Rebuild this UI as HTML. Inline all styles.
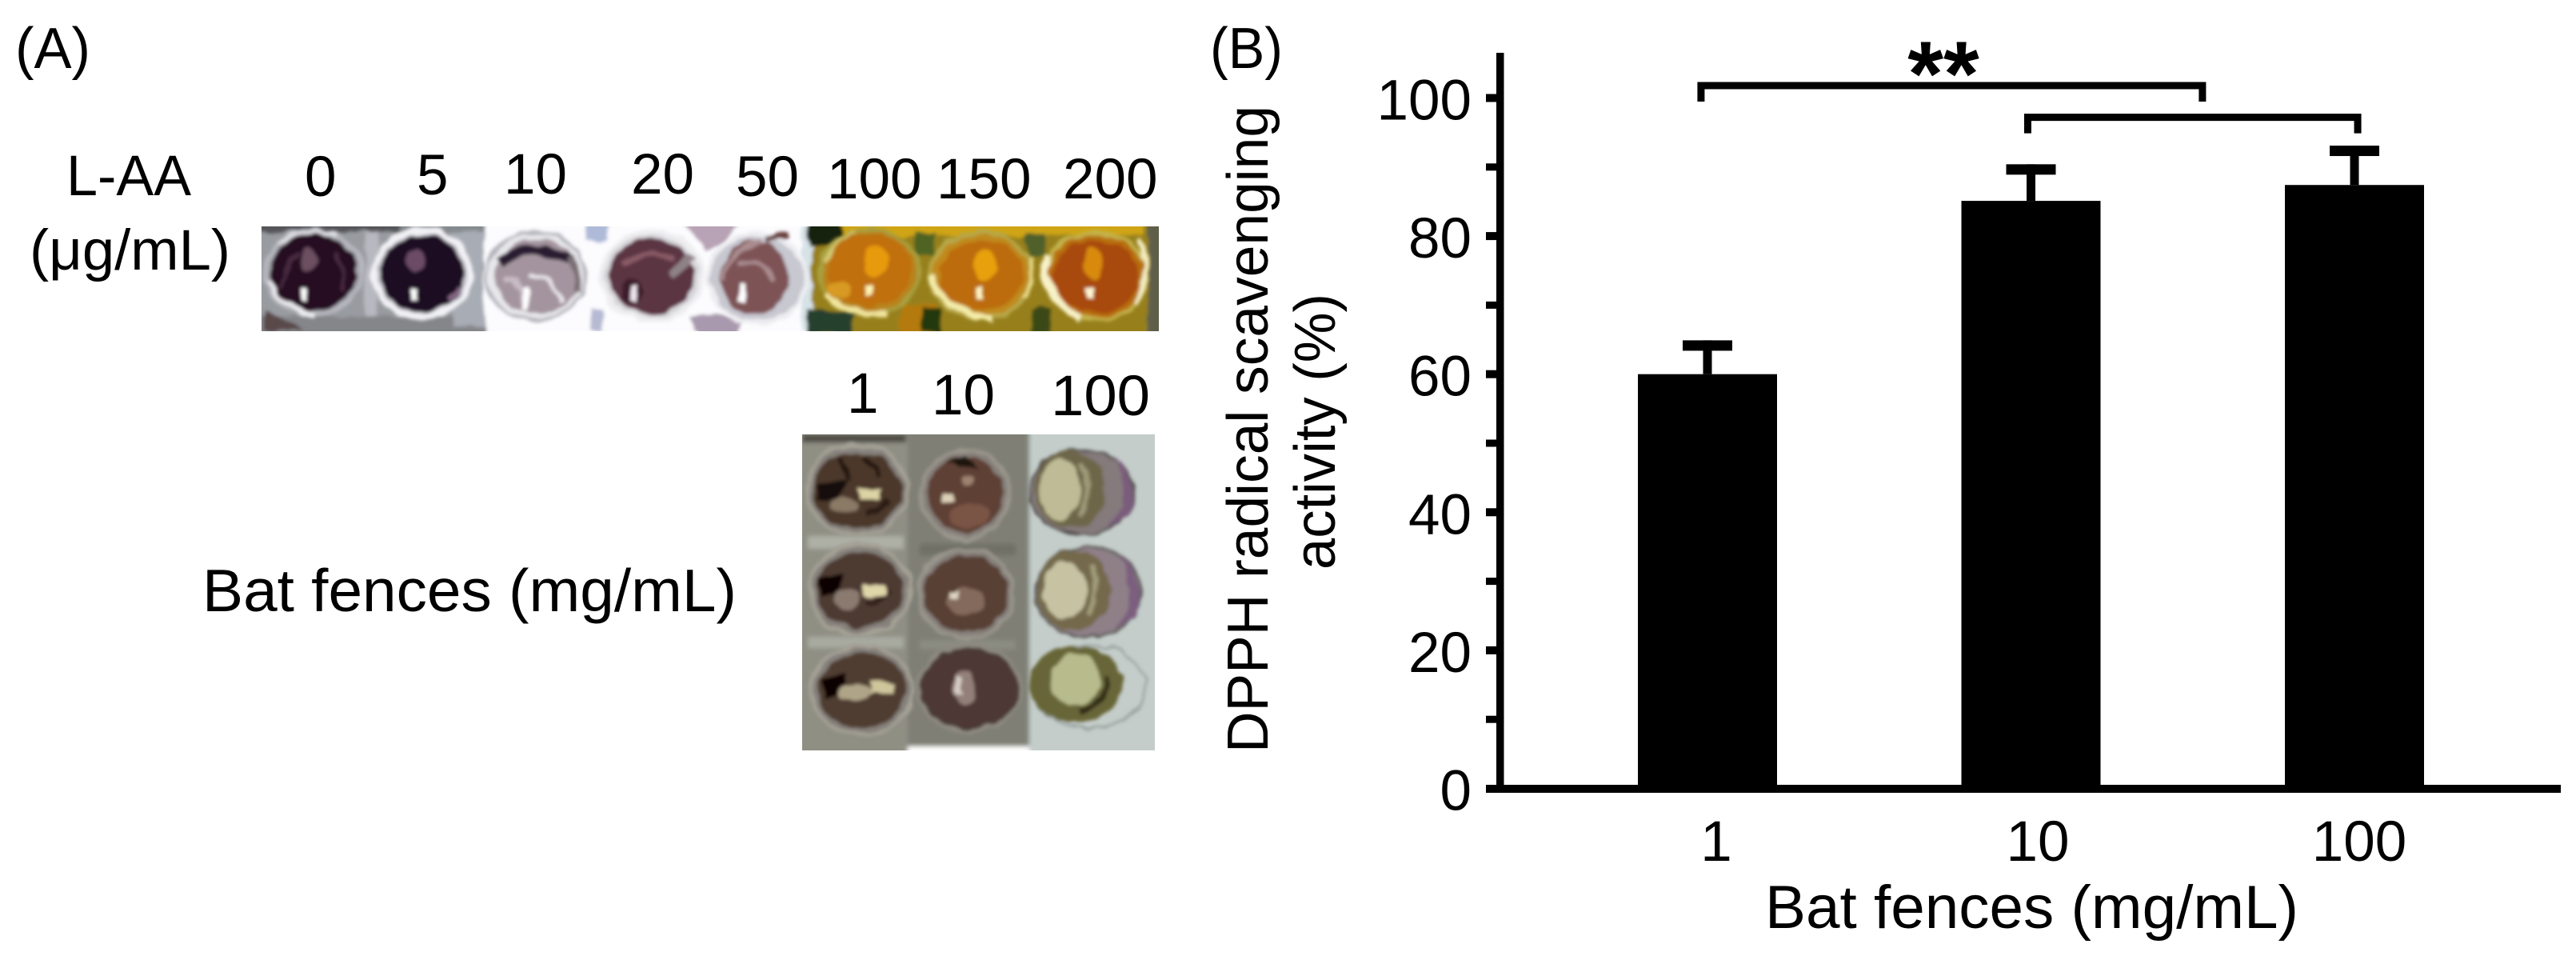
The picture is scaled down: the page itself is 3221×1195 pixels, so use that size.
<!DOCTYPE html>
<html lang="en">
<head>
<meta charset="utf-8">
<title>DPPH radical scavenging activity of bat fences</title>
<style>
html,body{margin:0;padding:0;background:#fff;}
svg{display:block;}
text{font-family:"Liberation Sans",Arial,sans-serif;fill:#000;}
</style>
</head>
<body>
<svg id="figure" xmlns="http://www.w3.org/2000/svg" width="3221" height="1195" viewBox="0 0 3221 1195">
<defs>
<filter id="b3" x="-10%" y="-10%" width="120%" height="120%"><feGaussianBlur stdDeviation="3"/></filter>
<filter id="org" x="-10%" y="-10%" width="120%" height="120%">
 <feTurbulence type="fractalNoise" baseFrequency="0.045" numOctaves="2" seed="4" result="n"/>
 <feDisplacementMap in="SourceGraphic" in2="n" scale="11" xChannelSelector="R" yChannelSelector="G"/>
 <feGaussianBlur stdDeviation="2.1"/>
</filter>
<clipPath id="clipA"><rect x="327" y="283" width="1122" height="131"/></clipPath>
<clipPath id="clipB"><rect x="1003" y="543" width="441" height="395"/></clipPath>
</defs>
<rect width="3221" height="1195" fill="#fff"/>

<!-- Panel A -->
<text x="19" y="85" font-size="72" textLength="94" lengthAdjust="spacingAndGlyphs">(A)</text>
<text x="83" y="244" font-size="71" textLength="156" lengthAdjust="spacingAndGlyphs">L-AA</text>
<text x="37" y="337" font-size="71" textLength="251" lengthAdjust="spacingAndGlyphs">(μg/mL)</text>
<text x="381" y="245" font-size="71">0</text>
<text x="521" y="243" font-size="71">5</text>
<text x="630" y="242" font-size="71">10</text>
<text x="789" y="242" font-size="71">20</text>
<text x="920" y="245" font-size="71">50</text>
<text x="1034" y="248" font-size="71">100</text>
<text x="1171" y="248" font-size="71">150</text>
<text x="1329" y="248" font-size="71">200</text>

<g clip-path="url(#clipA)">
 <g filter="url(#org)">
  <rect x="310" y="270" width="300" height="155" fill="#989ba0"/>
  <rect x="310" y="270" width="200" height="20" fill="#55555a"/>
  <rect x="500" y="270" width="110" height="20" fill="#858a8e"/>
  <rect x="310" y="395" width="300" height="26" fill="#85868a"/>
  <rect x="455" y="290" width="18" height="105" fill="#b8b8c0"/>
  <rect x="565" y="290" width="42" height="120" fill="#a8acb4"/>
  <path d="M330 385 L380 414 L330 414Z" fill="#5a4a4a"/>
  <rect x="606" y="270" width="410" height="155" fill="#fcfcfe"/>
  <rect x="732" y="278" width="28" height="24" fill="#aebad8"/>
  <rect x="738" y="385" width="16" height="28" fill="#b6bad2"/>
  <path d="M855 278 H925 L900 312 L880 312Z" fill="#b8a2b6"/>
  <path d="M860 395 H930 L925 420 H875Z" fill="#a999ae"/>
  <rect x="1002" y="283" width="14" height="130" fill="#d6e2e6"/>
  <rect x="1016" y="270" width="440" height="155" fill="#97801c"/>
  <rect x="1010" y="275" width="42" height="32" fill="#17240e"/>
  <rect x="1010" y="388" width="56" height="30" fill="#26402e"/>
  <rect x="1052" y="275" width="380" height="20" fill="#cfa515"/>
  <rect x="1125" y="380" width="45" height="38" fill="#b47a10"/>
  <rect x="1144" y="292" width="24" height="28" fill="#4f6420"/>
  <rect x="1284" y="292" width="22" height="28" fill="#50602a"/>
  <rect x="1152" y="385" width="24" height="32" fill="#243810"/>
  <rect x="1290" y="385" width="24" height="30" fill="#3a4818"/>
  <rect x="1436" y="275" width="20" height="145" fill="#5e5e4a"/>
 </g>
 <g filter="url(#org)">
  <ellipse cx="392" cy="340" rx="60" ry="53" fill="#a4a4ac" stroke="#b8b8c0" stroke-width="5"/>
  <path d="M338 350 Q350 385 395 394" stroke="#eeeef2" stroke-width="7" fill="none"/>
  <path d="M345 305 Q375 285 420 292" stroke="#dcdce2" stroke-width="5" fill="none"/>
  <ellipse cx="392" cy="340" rx="54" ry="48" fill="#260f22"/>
  <ellipse cx="385" cy="325" rx="10" ry="14" fill="#6c5060"/>
  <path d="M350 362 Q356 330 372 315 M420 318 Q435 340 428 365" stroke="#4a2c42" stroke-width="5" fill="none"/>
  <rect x="377" y="361" width="8" height="14" fill="#fff"/>
 </g>
 <g filter="url(#org)">
  <ellipse cx="528" cy="342" rx="60" ry="54" fill="#c0c0c8" stroke="#f2f2f6" stroke-width="8"/>
  <ellipse cx="528" cy="342" rx="52" ry="48" fill="#1c0a20"/>
  <ellipse cx="520" cy="325" rx="12" ry="15" fill="#6c4c66"/>
  <path d="M560 372 L575 360" stroke="#8a6a88" stroke-width="7" fill="none"/>
  <rect x="515" y="361" width="8" height="15" fill="#fff"/>
 </g>
 <g filter="url(#org)">
  <ellipse cx="670" cy="345" rx="62" ry="55" fill="#e8e8ec" stroke="#b4b4bc" stroke-width="4"/>
  <ellipse cx="672" cy="345" rx="53" ry="47" fill="#a4949f"/>
  <path d="M625 328 Q650 302 712 322" stroke="#2a1a30" stroke-width="13" fill="none"/>
  <path d="M662 342 Q692 345 702 378" stroke="#e8e4ea" stroke-width="6" fill="none"/>
  <path d="M712 318 Q724 340 720 365" stroke="#7a7074" stroke-width="9" fill="none"/>
  <path d="M630 350 Q650 345 655 380" stroke="#c8bcc6" stroke-width="8" fill="none"/>
  <rect x="653" y="360" width="8" height="28" fill="#fff"/>
 </g>
 <g filter="url(#org)">
  <ellipse cx="815" cy="345" rx="62" ry="55" fill="#d8d6da" stroke="#eeeef0" stroke-width="6"/>
  <ellipse cx="815" cy="345" rx="53" ry="47" fill="#5c3442"/>
  <path d="M780 330 Q810 310 845 325" stroke="#8a5c68" stroke-width="6" fill="none"/>
  <path d="M838 342 Q858 330 866 320" stroke="#8f8286" stroke-width="10" fill="none"/>
  <ellipse cx="790" cy="365" rx="14" ry="16" fill="#3c1a2a"/>
  <rect x="789" y="356" width="8" height="22" fill="#f0e6ee"/>
 </g>
 <g filter="url(#org)">
  <ellipse cx="947" cy="348" rx="62" ry="55" fill="#c8c8d0" stroke="#eeeef2" stroke-width="6"/>
  <ellipse cx="943" cy="347" rx="42" ry="46" fill="#7e5356"/>
  <path d="M925 330 Q950 318 968 350 M905 350 Q905 320 950 300" stroke="#ab8d90" stroke-width="6" fill="none"/>
  <path d="M955 300 L985 292" stroke="#694040" stroke-width="8" fill="none"/>
  <rect x="924" y="355" width="8" height="24" fill="#fff"/>
 </g>
 <g filter="url(#org)">
  <ellipse cx="1087" cy="340" rx="62" ry="53" fill="#b8841c" stroke="#a8a040" stroke-width="5"/>
  <path d="M1032 368 Q1060 395 1110 392" stroke="#f0e49c" stroke-width="7" fill="none"/>
  <path d="M1030 330 Q1040 300 1070 290" stroke="#d4c870" stroke-width="4" fill="none"/>
  <ellipse cx="1087" cy="338" rx="53" ry="45" fill="#c0700a"/>
  <ellipse cx="1095" cy="325" rx="16" ry="20" fill="#e89a10"/>
  <ellipse cx="1050" cy="362" rx="14" ry="10" fill="#d89a20"/>
  <rect x="1081" y="357" width="10" height="13" fill="#fff4b0"/>
 </g>
 <g filter="url(#org)">
  <ellipse cx="1227" cy="344" rx="63" ry="54" fill="#c08a1c" stroke="#b8a848" stroke-width="5"/>
  <path d="M1165 345 Q1180 390 1240 400" stroke="#f4eca8" stroke-width="8" fill="none"/>
  <path d="M1288 320 Q1296 345 1282 372" stroke="#e8dc88" stroke-width="6" fill="none"/>
  <ellipse cx="1227" cy="344" rx="53" ry="43" fill="#bc6c0c"/>
  <ellipse cx="1232" cy="332" rx="14" ry="20" fill="#e8a010"/>
  <rect x="1221" y="360" width="9" height="14" fill="#fff6c0"/>
 </g>
 <g filter="url(#org)">
  <ellipse cx="1370" cy="345" rx="63" ry="54" fill="#b87010" stroke="#c4b44c" stroke-width="5"/>
  <path d="M1308 318 Q1300 370 1350 398" stroke="#f8f2c8" stroke-width="9" fill="none"/>
  <path d="M1425 300 Q1442 340 1420 380" stroke="#f2ecc0" stroke-width="7" fill="none"/>
  <ellipse cx="1370" cy="345" rx="54" ry="45" fill="#a84a0a"/>
  <ellipse cx="1366" cy="330" rx="12" ry="20" fill="#d88a10"/>
  <rect x="1358" y="360" width="9" height="15" fill="#fff6d0"/>
 </g>
</g>

<text x="1059" y="516" font-size="71">1</text>
<text x="1165" y="518" font-size="71">10</text>
<text x="1314" y="519" font-size="71" textLength="124" lengthAdjust="spacingAndGlyphs">100</text>
<text x="253" y="764" font-size="75" textLength="668" lengthAdjust="spacingAndGlyphs">Bat fences (mg/mL)</text>

<g clip-path="url(#clipB)">
 <g filter="url(#b3)">
  <rect x="990" y="530" width="145" height="420" fill="#8f8f84"/>
  <rect x="1135" y="535" width="152" height="398" fill="#7f7f74"/>
  <rect x="1287" y="535" width="170" height="420" fill="#c4cdca"/>
  <rect x="1135" y="933" width="152" height="14" fill="#fff"/>
  <rect x="1010" y="670" width="120" height="16" fill="#aeb0a6"/>
  <rect x="1010" y="796" width="120" height="14" fill="#a8aaa0"/>
  <rect x="1150" y="680" width="120" height="14" fill="#6f7066"/>
  <rect x="1150" y="800" width="120" height="12" fill="#8b8c82"/>
  <rect x="1003" y="543" width="130" height="10" fill="#4c4a42"/>
 </g>
 <g filter="url(#org)">
  <ellipse cx="1072" cy="612" rx="63" ry="56" fill="#85807a" stroke="#a5a196" stroke-width="5"/>
  <ellipse cx="1072" cy="612" rx="56" ry="47" fill="#4c382c"/>
  <path d="M1020 605 L1060 600 L1050 625 L1022 625Z" fill="#120a08"/>
  <path d="M1050 572 Q1062 590 1060 600 M1080 570 Q1095 590 1098 598" stroke="#241610" stroke-width="7" fill="none"/>
  <ellipse cx="1055" cy="632" rx="18" ry="10" fill="#8a7a66"/>
  <path d="M1082 640 Q1100 640 1112 625" stroke="#2a1a14" stroke-width="8" fill="none"/>
  <rect x="1073" y="612" width="28" height="12" fill="#ddd4a6"/>
 </g>
 <g filter="url(#org)">
  <ellipse cx="1075" cy="737" rx="63" ry="56" fill="#85807a" stroke="#a5a196" stroke-width="5"/>
  <ellipse cx="1075" cy="737" rx="55" ry="47" fill="#4e3a32"/>
  <path d="M1022 722 L1055 716 L1050 742 L1026 745Z" fill="#0a0606"/>
  <ellipse cx="1060" cy="750" rx="16" ry="14" fill="#8a7a70"/>
  <path d="M1085 755 Q1100 752 1112 738" stroke="#2e1c18" stroke-width="7" fill="none"/>
  <rect x="1080" y="732" width="28" height="13" fill="#e0d6aa"/>
 </g>
 <g filter="url(#org)">
  <ellipse cx="1078" cy="863" rx="63" ry="56" fill="#85807a" stroke="#a5a196" stroke-width="5"/>
  <ellipse cx="1078" cy="863" rx="55" ry="47" fill="#503c32"/>
  <path d="M1028 848 L1058 842 L1056 868 L1030 872Z" fill="#070404"/>
  <ellipse cx="1068" cy="866" rx="20" ry="12" fill="#b0a488"/>
  <rect x="1088" y="853" width="30" height="14" fill="#cfc69c"/>
 </g>
 <g filter="url(#org)">
  <ellipse cx="1207" cy="618" rx="55" ry="55" fill="#86807a" stroke="#9a968c" stroke-width="5"/>
  <ellipse cx="1207" cy="618" rx="47" ry="47" fill="#5e4034"/>
  <path d="M1185 580 L1207 568 L1225 585 Z" fill="#1c1410"/>
  <rect x="1178" y="618" width="14" height="10" fill="#ddd2b8"/>
  <ellipse cx="1212" cy="645" rx="24" ry="14" fill="#7a5444"/>
  <ellipse cx="1210" cy="600" rx="8" ry="7" fill="#9d8270"/>
 </g>
 <g filter="url(#org)">
  <ellipse cx="1207" cy="742" rx="60" ry="56" fill="#86807a" stroke="#9a968c" stroke-width="5"/>
  <ellipse cx="1207" cy="742" rx="53" ry="47" fill="#583f34"/>
  <ellipse cx="1207" cy="752" rx="24" ry="18" fill="#836a5c"/>
  <rect x="1186" y="738" width="12" height="10" fill="#e0d6c4"/>
 </g>
 <g filter="url(#org)">
  <ellipse cx="1212" cy="860" rx="64" ry="54" fill="#4a3c34" stroke="#8f8a80" stroke-width="5"/>
  <ellipse cx="1212" cy="860" rx="58" ry="48" fill="#4e3836"/>
  <ellipse cx="1205" cy="860" rx="14" ry="22" fill="#94807a"/>
  <rect x="1194" y="846" width="8" height="22" fill="#d8cfc8"/>
 </g>
 <g filter="url(#org)">
  <ellipse cx="1353" cy="615" rx="65" ry="53" fill="#857a7c" stroke="#4e4e4a" stroke-width="3"/>
  <path d="M1392 570 Q1420 615 1385 660 L1410 645 Q1425 615 1405 580Z" fill="#7a5c7c"/>
  <ellipse cx="1338" cy="612" rx="44" ry="48" fill="#6e664a"/>
  <ellipse cx="1325" cy="612" rx="26" ry="38" fill="#bebb96"/>
  <path d="M1350 580 Q1368 612 1350 645" stroke="#9e9a78" stroke-width="6" fill="none"/>
 </g>
 <g filter="url(#org)">
  <ellipse cx="1360" cy="740" rx="66" ry="57" fill="#8f8088" stroke="#5a5a54" stroke-width="3"/>
  <path d="M1398 695 Q1428 740 1395 785 L1420 770 Q1432 740 1412 705Z" fill="#7c5e7e"/>
  <ellipse cx="1342" cy="738" rx="46" ry="50" fill="#74694c"/>
  <ellipse cx="1332" cy="738" rx="28" ry="36" fill="#c6c2a2"/>
  <path d="M1362 705 Q1380 738 1360 772" stroke="#a19c7a" stroke-width="6" fill="none"/>
 </g>
 <g filter="url(#org)">
  <ellipse cx="1362" cy="858" rx="72" ry="52" fill="none" stroke="#9aa39e" stroke-width="3"/>
  <ellipse cx="1345" cy="855" rx="58" ry="48" fill="#686638"/>
  <ellipse cx="1345" cy="850" rx="30" ry="34" fill="#b8bc8c"/>
  <path d="M1350 890 Q1385 880 1385 845" stroke="#2e2a18" stroke-width="6" fill="none"/>
 </g>
</g>

<!-- Panel B -->
<text x="1513" y="85" font-size="72" textLength="91" lengthAdjust="spacingAndGlyphs">(B)</text>
<text transform="translate(1585 941) rotate(-90)" font-size="72" textLength="809" lengthAdjust="spacingAndGlyphs">DPPH radical scavenging</text>
<text transform="translate(1669 712) rotate(-90)" font-size="72" textLength="345" lengthAdjust="spacingAndGlyphs">activity (%)</text>
<text x="2207" y="1160" font-size="76" textLength="667" lengthAdjust="spacingAndGlyphs">Bat fences (mg/mL)</text>
<g id="chart"></g>
</svg>

<script>
const categories = ['1', '10', '100'];
const barValues = [60, 85.1, 87.4];
const errorValues = [4.9, 5.3, 5.7];
const majorTicks = [0, 20, 40, 60, 80, 100];
const minorTicks = [10, 30, 50, 70, 90];
const significance = [[-0.02, 1.53, 101.8], [0.99, 2.01, 97.2]];
const starLabel = '**';

const NS = 'http://www.w3.org/2000/svg';
const chart = document.getElementById('chart');
function yScale(v) { return 985.5 - v * 8.63; }
function xScale(i) { return 2135 + i * 404.5; }
function shape(tag, attrs, parent) {
  const el = document.createElementNS(NS, tag);
  for (const k in attrs) el.setAttribute(k, attrs[k]);
  (parent || chart).appendChild(el);
  return el;
}

barValues.forEach(function (v, i) {
  const bar = shape('rect', { x: xScale(i) - 87, y: yScale(v), width: 174, height: yScale(0) - yScale(v), fill: '#000' });
  
  
  const top = yScale(v + errorValues[i]);
  const stem = shape('rect', { x: xScale(i) - 5.5, y: top, width: 11, height: yScale(v) - top, fill: '#000' });
  
  
  const cap = shape('rect', { x: xScale(i) - 31, y: top, width: 62, height: 13, fill: '#000' });
  
  
  const label = shape('text', { x: xScale(i) + 11 - i * 2.5, y: 1076, 'font-size': 71, 'text-anchor': 'middle' });
  label.textContent = categories[i];
  
  
});

const yAxis = shape('rect', { x: 1871, y: 66, width: 9.5, height: 925, fill: '#000' });


const xAxis = shape('rect', { x: 1858, y: 981, width: 1344, height: 10, fill: '#000' });



majorTicks.forEach(function (t) {
  if (t > 0) {
    const tick = shape('rect', { x: 1858, y: yScale(t) - 5, width: 16, height: 10, fill: '#000' });
    
    
  }
  const label = shape('text', { x: 1840, y: yScale(t) + 27, 'font-size': 71, 'text-anchor': 'end' });
  label.textContent = String(t);
  
  
});

minorTicks.forEach(function (t) {
  const tick = shape('rect', { x: 1858, y: yScale(t) - 4.5, width: 16, height: 9, fill: '#000' });
  
  
});

significance.forEach(function (s, i) {
  const x1 = xScale(s[0]);
  const x2 = xScale(s[1]);
  const y = yScale(s[2]);
  const bracket = shape('path', { d: 'M' + x1 + ' ' + (y + 20) + ' V' + y + ' H' + x2 + ' V' + (y + 20), fill: 'none', stroke: '#000', 'stroke-width': 9 });
  
  
});

const stars = shape('text', { x: 2430, y: 132, 'font-size': 115, 'text-anchor': 'middle', 'font-weight': 'bold' });
stars.textContent = starLabel;


</script>
</body>
</html>
